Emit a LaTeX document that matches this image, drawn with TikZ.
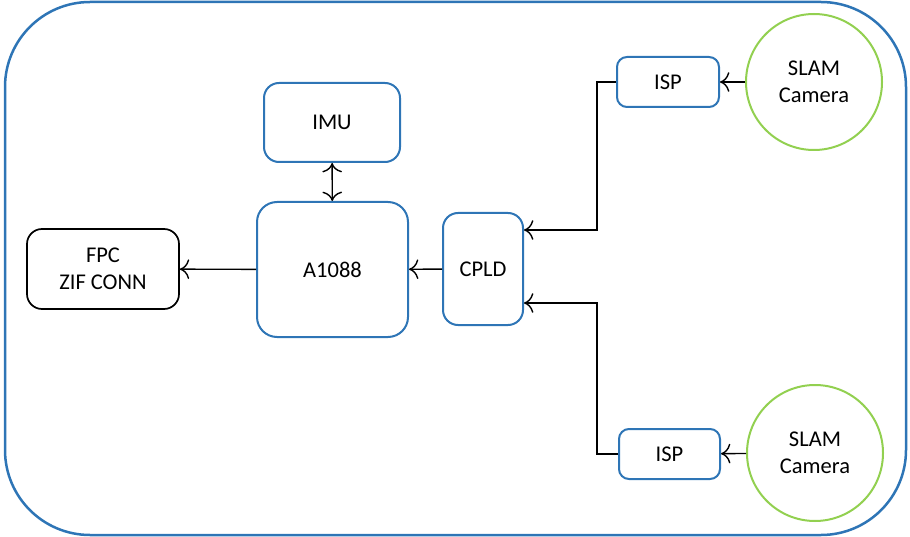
\documentclass[tikz,border=0pt]{standalone}
\usepackage{fontspec}
\setmainfont{Carlito}
\usetikzlibrary{arrows.meta}
\definecolor{boxblue}{RGB}{46,117,182}
\definecolor{camgreen}{RGB}{146,208,80}
\tikzset{
	blk/.style={draw=boxblue, line width=2pt, rounded corners=15pt, inner sep=0pt, align=center},
	conn/.style={draw=black, line width=1.7pt, rounded corners=15pt, inner sep=0pt, align=center},
	cam/.style={draw=camgreen, line width=2pt, circle, inner sep=0pt, minimum size=136pt, align=center},
	link/.style={line width=1.4pt, -{To[scale=2]}},
	dlink/.style={line width=1.4pt, {To[scale=2]}-{To[scale=2]}},
}
\begin{document}
\begin{tikzpicture}[x=1pt, y=-1pt, font=\fontsize{22.5}{27}\selectfont]
			%%%%% START %%%%%
			\useasboundingbox (0,0) rectangle (910,537);
			
			\draw[boxblue, line width=2.5pt, rounded corners=85pt] (5,2) rectangle (906,535);
			
			\node[blk, minimum width=136pt, minimum height=79pt] (imu) at (332,122.5) {IMU};
			\node[blk, rounded corners=20pt, minimum width=151pt, minimum height=135pt] (soc) at (332.5,269.5) {A1088};
			\node[conn, minimum width=152pt, minimum height=80pt] (fpc) at (103,269) {FPC\\ZIF CONN};
			\node[blk, minimum width=80pt, minimum height=112pt] (cpld) at (483,269) {CPLD};
			
			\node[blk, rounded corners=10pt, minimum width=102pt, minimum height=50pt] (ispa) at (668,82) {ISP};
			\node[blk, rounded corners=10pt, minimum width=101pt, minimum height=50pt] (ispb) at (669.5,454) {ISP};
			
			\node[cam] (cama) at (814,82) {SLAM\\Camera};
			\node[cam] (camb) at (815,453) {SLAM\\Camera};
			
			\draw[dlink] (imu) -- (soc);
			\draw[link] (soc) -- (fpc);
			\draw[link] (cpld) -- (soc);
			\draw[link] (cama) -- (ispa);
			\draw[link] (camb) -- (ispb);
			\draw[link] (ispa.west) -- (597,82) |- (cpld.east |- 0,230);
			\draw[link] (ispb.west) -- (597,454) |- (cpld.east |- 0,303);
			
			%%%%% END %%%%%
\end{tikzpicture}
\end{document}
